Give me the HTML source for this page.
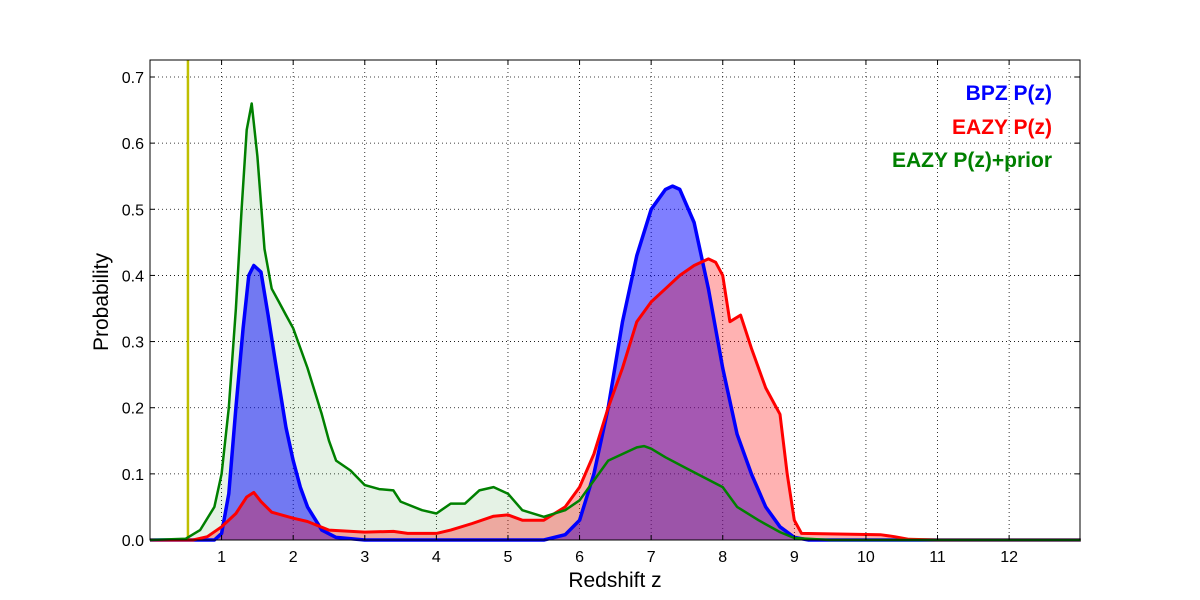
<!DOCTYPE html>
<html><head><meta charset="utf-8"><style>
body{margin:0;background:#fff;}
svg{display:block;font-family:"Liberation Sans","DejaVu Sans",sans-serif;}
</style></head><body>
<svg id="chart" width="1200" height="600">
<rect x="0" y="0" width="1200" height="600" fill="#fff"/>
<g id="grid"></g>
<g id="fills"></g>
<g id="lines"></g>
<rect x="150" y="60" width="930" height="480" fill="none" stroke="#000" stroke-width="1"/>
<g id="ticks"></g>
<text x="615" y="587" font-size="21" text-anchor="middle">Redshift z</text>
<text x="108" y="302" font-size="21" text-anchor="middle" transform="rotate(-90 108 302)">Probability</text>
<text x="1052" y="100" font-size="21" font-weight="bold" fill="#0000ff" text-anchor="end">BPZ P(z)</text>
<text x="1052" y="134" font-size="21" font-weight="bold" fill="#ff0000" text-anchor="end">EAZY P(z)</text>
<text x="1052" y="167" font-size="21" font-weight="bold" fill="#008000" text-anchor="end">EAZY P(z)+prior</text>
</svg>
<script>
const xTicks=[1,2,3,4,5,6,7,8,9,10,11,12];
const yTicks=[0,0.1,0.2,0.3,0.4,0.5,0.6,0.7];
const specZ=[0.53];
const bpzZ=[0,0.9,1.0,1.1,1.2,1.3,1.38,1.45,1.55,1.65,1.75,1.9,2.0,2.1,2.2,2.4,2.6,3.0,5.5,5.8,6.0,6.2,6.4,6.6,6.8,7.0,7.2,7.3,7.4,7.6,7.8,8.0,8.2,8.4,8.6,8.8,9.0,9.2,13];
const bpzP=[0,0,0.01,0.07,0.2,0.32,0.4,0.415,0.405,0.34,0.27,0.17,0.12,0.08,0.05,0.015,0.004,0,0,0.008,0.03,0.1,0.2,0.33,0.43,0.5,0.53,0.535,0.53,0.48,0.38,0.26,0.16,0.1,0.05,0.02,0.004,0,0];
const eazyZ=[0,0.6,0.8,1.0,1.2,1.35,1.45,1.55,1.7,2.0,2.2,2.5,3.0,3.4,3.6,4.0,4.2,4.5,4.8,5.0,5.2,5.5,5.8,6.0,6.2,6.4,6.6,6.8,7.0,7.2,7.4,7.6,7.8,7.9,8.0,8.1,8.25,8.4,8.6,8.8,8.9,9.0,9.1,10.2,10.4,10.6,11,13];
const eazyP=[0,0,0.005,0.02,0.04,0.065,0.072,0.058,0.042,0.033,0.028,0.015,0.012,0.013,0.01,0.01,0.015,0.025,0.036,0.038,0.03,0.03,0.05,0.08,0.13,0.2,0.26,0.33,0.36,0.38,0.4,0.415,0.425,0.42,0.4,0.33,0.34,0.29,0.23,0.19,0.1,0.03,0.01,0.008,0.005,0.001,0,0];
const priorZ=[0,0.5,0.7,0.9,1.0,1.1,1.2,1.28,1.35,1.42,1.5,1.6,1.7,1.8,1.9,2.0,2.2,2.4,2.5,2.6,2.8,3.0,3.2,3.4,3.5,3.8,4.0,4.2,4.4,4.6,4.8,5.0,5.2,5.5,5.8,6.0,6.2,6.4,6.6,6.8,6.9,7.0,7.2,7.5,8.0,8.2,8.5,8.8,9.0,9.5,13];
const priorP=[0,0.002,0.015,0.05,0.1,0.2,0.35,0.5,0.62,0.66,0.58,0.44,0.38,0.36,0.34,0.32,0.26,0.19,0.15,0.12,0.105,0.083,0.077,0.075,0.058,0.045,0.04,0.055,0.055,0.075,0.08,0.07,0.045,0.035,0.045,0.06,0.09,0.12,0.13,0.14,0.142,0.138,0.125,0.108,0.08,0.05,0.03,0.012,0.003,0,0];
const X0=150,X1=1080,Y0=540,Y1=60,XMIN=0,XMAX=12.99,YMIN=0,YMAX=0.7257;
const sx=v=>X0+(v-XMIN)/(XMAX-XMIN)*(X1-X0);
const sy=v=>Y0-(v-YMIN)/(YMAX-YMIN)*(Y0-Y1);
const NS='http://www.w3.org/2000/svg';
function mk(tag,attrs,parent){const e=document.createElementNS(NS,tag);for(const k in attrs)e.setAttribute(k,attrs[k]);parent.appendChild(e);return e;}
const grid=document.getElementById('grid'),ticks=document.getElementById('ticks');
xTicks.forEach(t=>{
 const l=mk('line',{x1:sx(t),x2:sx(t),y1:Y1,y2:Y0,stroke:'#000','stroke-width':0.8,'stroke-dasharray':'1,3'},grid);
 
 
 mk('line',{x1:sx(t),x2:sx(t),y1:Y0,y2:Y0-5,stroke:'#000'},ticks);
 mk('line',{x1:sx(t),x2:sx(t),y1:Y1,y2:Y1+5,stroke:'#000'},ticks);
 const tx=mk('text',{x:sx(t),y:Y0+22,'font-size':16,'text-anchor':'middle'},ticks);
 tx.textContent=t;
 
 
});
yTicks.forEach(t=>{
 const l=mk('line',{x1:X0,x2:X1,y1:sy(t),y2:sy(t),stroke:'#000','stroke-width':0.8,'stroke-dasharray':'1,3'},grid);
 
 
 mk('line',{x1:X0,x2:X0+5,y1:sy(t),y2:sy(t),stroke:'#000'},ticks);
 mk('line',{x1:X1,x2:X1-5,y1:sy(t),y2:sy(t),stroke:'#000'},ticks);
 const tx=mk('text',{x:X0-6,y:sy(t)+6,'font-size':16,'text-anchor':'end'},ticks);
 tx.textContent=t.toFixed(1);
 
 
});
const fills=document.getElementById('fills'),lines=document.getElementById('lines');
function pts(zs,ps){return zs.map((z,i)=>sx(z).toFixed(1)+','+sy(ps[i]).toFixed(1)).join(' ');}
const series=[
 {z:priorZ,p:priorP,fill:'rgba(0,128,0,0.1)',stroke:'#008000',w:2.5,name:'eazy-prior'},
 {z:bpzZ,p:bpzP,fill:'rgba(0,0,255,0.5)',stroke:'#0000ff',w:3.5,name:'bpz'},
 {z:eazyZ,p:eazyP,fill:'rgba(255,0,0,0.3)',stroke:'#ff0000',w:3,name:'eazy'}
];
series.forEach(s=>{
 const a=mk('polygon',{points:sx(s.z[0])+','+sy(0)+' '+pts(s.z,s.p)+' '+sx(s.z[s.z.length-1])+','+sy(0),fill:s.fill},fills);
 
 
});
specZ.forEach(z=>{
 const v=mk('line',{x1:sx(z),x2:sx(z),y1:Y1,y2:Y0,stroke:'#bfbf00','stroke-width':2.5},lines);
 
 
});
[series[1],series[2],series[0]].forEach(s=>{
 const l=mk('polyline',{points:pts(s.z,s.p),fill:'none',stroke:s.stroke,'stroke-width':s.w,'stroke-linejoin':'round'},lines);
 
 
});
</script>
</body></html>
